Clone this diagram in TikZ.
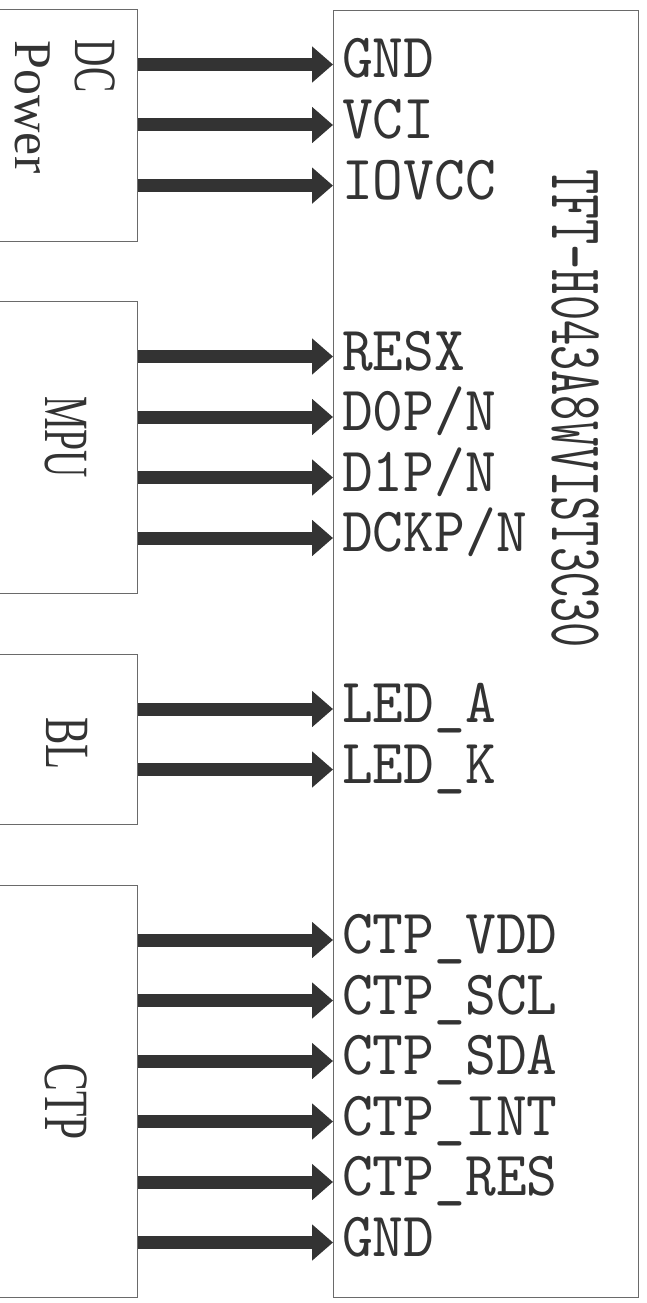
\documentclass[tikz,border=0pt]{standalone}
\usepackage{fontspec}
\setmainfont{Liberation Serif}
\newfontfamily\pinfont[FakeStretch=0.93]{lmmono10-regular.otf}
\newfontfamily\titlefont[FakeStretch=0.64]{lmmono10-regular.otf}
\usetikzlibrary{arrows.meta}
\definecolor{ink}{HTML}{333333}
\definecolor{frame}{HTML}{6A6A6A}
\begin{document}
\begin{tikzpicture}[x=1pt,y=-1pt,
  box/.style={draw=frame,line width=1pt,inner sep=0pt,anchor=north west},
  sig/.style={draw=ink,line width=13pt,-{Triangle[length=21pt,width=35pt]}},
  pin/.style={anchor=base west,inner sep=0pt,text=ink,font=\pinfont\fontsize{63}{63}\selectfont},
  blk/.style={inner sep=0pt,text=ink,rotate=-90}]
\useasboundingbox (0,0) rectangle (646,1303);
% blocks
\node[box,minimum width=139pt,minimum height=231pt] (dc) at (-2,9.5) {};
\node[box,minimum width=139pt,minimum height=292pt] (mpu) at (-2,301) {};
\node[box,minimum width=139pt,minimum height=170pt] (bl) at (-2,654) {};
\node[box,minimum width=139pt,minimum height=412pt] (ctp) at (-2,885) {};
\node[box,minimum width=305pt,minimum height=1287pt] (tft) at (333,10) {};
% block labels
\node[blk] (dct) at (95,66) {\scalebox{0.63}[1]{\fontsize{60}{60}\selectfont DC}};
\node[blk] (pwt) at (32.5,107) {\scalebox{0.98}[1]{\fontsize{53}{53}\selectfont Power}};
\node[blk] (mput) at (66,437) {\scalebox{0.6}[1]{\fontsize{63}{63}\selectfont MPU}};
\node[blk] (blt) at (67.5,743.5) {\scalebox{0.65}[1]{\fontsize{63}{63}\selectfont BL}};
\node[blk] (ctpt) at (66,1101.5) {\scalebox{0.66}[1]{\fontsize{63}{63}\selectfont CTP}};
\node[blk] (title) at (575,408.5) {\titlefont\fontsize{75}{75}\selectfont TFT-H043A8WVIST3C30};
% pins
\coordinate (y1) at (0,64.5);
\coordinate (y2) at (0,125);
\coordinate (y3) at (0,185.6);
\coordinate (y4) at (0,356.5);
\coordinate (y5) at (0,417);
\coordinate (y6) at (0,477.5);
\coordinate (y7) at (0,538);
\coordinate (y8) at (0,709);
\coordinate (y9) at (0,769.5);
\coordinate (y10) at (0,940);
\coordinate (y11) at (0,1000.5);
\coordinate (y12) at (0,1061);
\coordinate (y13) at (0,1121.5);
\coordinate (y14) at (0,1182);
\coordinate (y15) at (0,1242.5);
\node[pin] (l1) at (342,78) {GND};
\node[pin] (l2) at (342,138.5) {VCI};
\node[pin] (l3) at (342,199.1) {IOVCC};
\node[pin] (l4) at (342,370) {RESX};
\node[pin] (l5) at (342,430.5) {D0P/N};
\node[pin] (l6) at (342,491) {D1P/N};
\node[pin] (l7) at (342,551.5) {DCKP/N};
\node[pin] (l8) at (342,722.5) {LED\_A};
\node[pin] (l9) at (342,783) {LED\_K};
\node[pin] (l10) at (342,953.5) {CTP\_VDD};
\node[pin] (l11) at (342,1014) {CTP\_SCL};
\node[pin] (l12) at (342,1074.5) {CTP\_SDA};
\node[pin] (l13) at (342,1135) {CTP\_INT};
\node[pin] (l14) at (342,1195.5) {CTP\_RES};
\node[pin] (l15) at (342,1256) {GND};
\draw[sig] (dc.east |- y1) -- (tft.west |- y1);
\draw[sig] (dc.east |- y2) -- (tft.west |- y2);
\draw[sig] (dc.east |- y3) -- (tft.west |- y3);
\draw[sig] (mpu.east |- y4) -- (tft.west |- y4);
\draw[sig] (mpu.east |- y5) -- (tft.west |- y5);
\draw[sig] (mpu.east |- y6) -- (tft.west |- y6);
\draw[sig] (mpu.east |- y7) -- (tft.west |- y7);
\draw[sig] (bl.east |- y8) -- (tft.west |- y8);
\draw[sig] (bl.east |- y9) -- (tft.west |- y9);
\draw[sig] (ctp.east |- y10) -- (tft.west |- y10);
\draw[sig] (ctp.east |- y11) -- (tft.west |- y11);
\draw[sig] (ctp.east |- y12) -- (tft.west |- y12);
\draw[sig] (ctp.east |- y13) -- (tft.west |- y13);
\draw[sig] (ctp.east |- y14) -- (tft.west |- y14);
\draw[sig] (ctp.east |- y15) -- (tft.west |- y15);
\end{tikzpicture}
\end{document}
